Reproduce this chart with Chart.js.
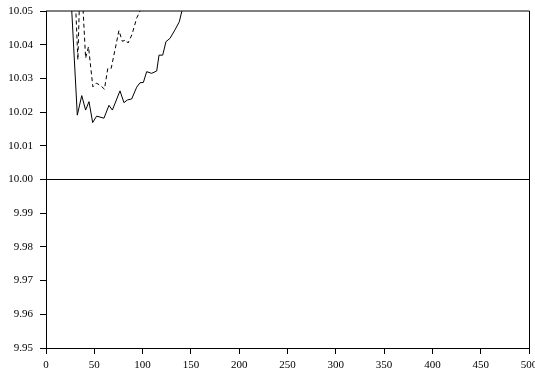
<!DOCTYPE html>
<html>
<head>
<meta charset="utf-8">
<script src="https://cdn.jsdelivr.net/npm/chart.js@4/dist/chart.umd.min.js"></script>
<style>
html,body{margin:0;padding:0;background:#fff;}
canvas{display:block;}
</style>
</head>
<body>
<canvas id="c" width="535" height="373"></canvas>
<script>
// Solid series (x, value)
const solidX = [25, 32.4, 37, 41, 44.5, 48.3, 52.4, 60, 65.2, 68.7, 76.6, 80.7, 84.2, 88.7, 93.9, 97.3, 100.8, 104.2, 109.4, 114.6, 117, 120.8, 124.2, 128.4, 133.5, 138, 140.5, 145];
const solidY = [10.059, 10.0191, 10.0249, 10.0206, 10.0231, 10.0169, 10.0188, 10.0182, 10.0220, 10.0206, 10.0263, 10.0228, 10.0236, 10.0239, 10.0274, 10.0287, 10.0288, 10.0320, 10.0315, 10.0322, 10.0369, 10.0369, 10.0409, 10.0419, 10.0444, 10.0468, 10.0498, 10.056];
// Dashed series (x, value)
const dashX = [28, 33, 35.5, 37, 41, 44, 48.5, 52, 56, 60.5, 64, 67.5, 75.5, 79, 82.5, 85, 89, 94, 97, 101];
const dashY = [10.07, 10.0355, 10.062, 10.058, 10.036, 10.0394, 10.0275, 10.0286, 10.028, 10.0268, 10.033, 10.033, 10.0442, 10.041, 10.0414, 10.0405, 10.043, 10.048, 10.0497, 10.053];
// Reference level
const refX = [0, 500];
const refY = [10.00, 10.00];
// Axis ranges / ticks
const xTicks = [0, 50, 100, 150, 200, 250, 300, 350, 400, 450, 500];
const yTicks = [9.95, 9.96, 9.97, 9.98, 9.99, 10.00, 10.01, 10.02, 10.03, 10.04, 10.05];

const pts = (xs, ys) => xs.map((x, i) => ({x: x, y: ys[i]}));
const font = {family: '"Liberation Serif", "Times New Roman", serif', size: 11};

const frame = {
  id: 'frame',
  afterDraw(chart) {
    const a = chart.chartArea, ctx = chart.ctx;
    ctx.save();
    ctx.strokeStyle = '#000';
    ctx.lineWidth = 1;
    ctx.beginPath();
    ctx.moveTo(a.left, a.top);
    ctx.lineTo(a.right + 0.5, a.top);
    ctx.moveTo(Math.round(a.right) + 0.5, a.top);
    ctx.lineTo(Math.round(a.right) + 0.5, a.bottom);
    ctx.stroke();
    ctx.restore();
  }
};

new Chart(document.getElementById('c'), {
  type: 'line',
  data: {
    datasets: [
      {data: pts(refX, refY), borderColor: '#000', borderWidth: 1, pointRadius: 0, tension: 0},
      {data: pts(solidX, solidY), borderColor: '#000', borderWidth: 1, pointRadius: 0, tension: 0},
      {data: pts(dashX, dashY), borderColor: '#000', borderWidth: 1, borderDash: [4, 3], pointRadius: 0, tension: 0}
    ]
  },
  options: {
    responsive: false,
    animation: false,
    devicePixelRatio: 1,
    layout: {padding: {top: 11, right: 6, left: 0, bottom: 0}},
    plugins: {legend: {display: false}, tooltip: {enabled: false}},
    scales: {
      x: {
        type: 'linear', min: xTicks[0], max: xTicks[xTicks.length - 1],
        afterBuildTicks: s => { s.ticks = xTicks.map(v => ({value: v})); },
        ticks: {color: '#000', font: font, padding: 5, maxRotation: 0, autoSkip: false},
        grid: {drawOnChartArea: false, tickLength: 6, color: '#000'},
        border: {color: '#000'},
        afterFit: s => { s.height = 25; s.paddingLeft = 0; s.paddingRight = 0; }
      },
      y: {
        type: 'linear', min: yTicks[0], max: yTicks[yTicks.length - 1],
        afterBuildTicks: s => { s.ticks = yTicks.map(v => ({value: v})); },
        ticks: {color: '#000', font: font, padding: 7, callback: v => Number(v).toFixed(2)},
        grid: {drawOnChartArea: false, tickLength: 6, color: '#000'},
        border: {color: '#000'},
        afterFit: s => { s.width = 46; s.paddingTop = 0; s.paddingBottom = 0; }
      }
    }
  },
  plugins: [frame]
});
</script>
</body>
</html>
